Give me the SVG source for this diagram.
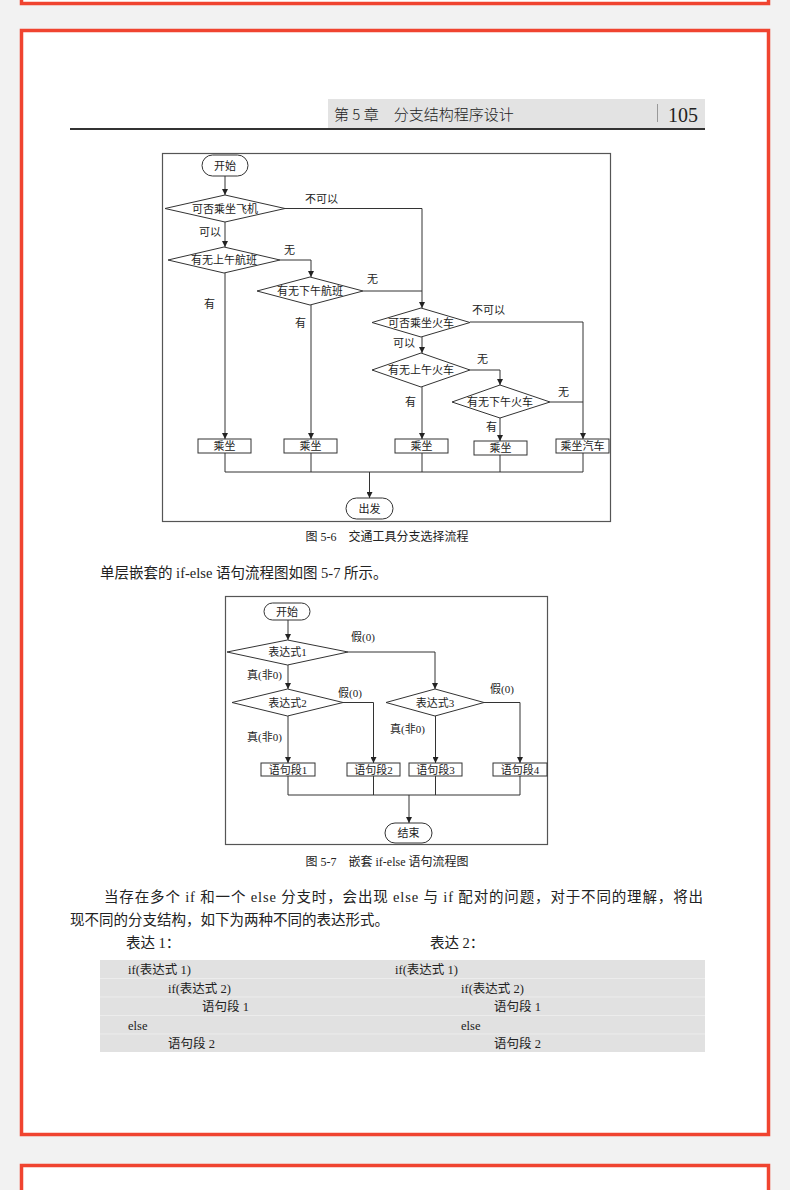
<svg xmlns="http://www.w3.org/2000/svg" width="790" height="1190" viewBox="0 0 790 1190">
<defs>
<marker id="ah" viewBox="0 0 8 8" refX="8" refY="4" markerWidth="6" markerHeight="6" markerUnits="userSpaceOnUse" orient="auto">
<path d="M0,0 L8,4 L0,8 z" fill="#222"/>
</marker>
<style>
.panel{fill:#fff;stroke:#f04430;stroke-width:3.5}
.frame{fill:none;stroke:#555;stroke-width:1.2}
.shape{fill:#fff;stroke:#333;stroke-width:1}
.con{fill:none;stroke:#333;stroke-width:1}
.arr{marker-end:url(#ah)}
.t{font-family:"Liberation Serif","Noto Sans CJK SC",serif;fill:#222}
.n{font-size:11px;text-anchor:middle}
.l{font-size:11px}
.body{font-size:14.5px}
.code{font-size:12.5px}
.cap{font-size:12px;text-anchor:middle}
.h{font-family:"Noto Sans CJK SC","Liberation Sans",sans-serif;fill:#222}
</style>
</defs>
<rect width="790" height="1190" fill="#f2f2f2"/>
<rect class="panel" x="21.5" y="-20" width="747" height="23.5"/>
<rect class="panel" x="21.5" y="30.5" width="747" height="1104"/>
<rect class="panel" x="21.5" y="1165.5" width="747" height="40"/>

<g id="header">
<rect x="328" y="99" width="377" height="29" fill="#e3e3e3"/>
<text class="h" x="334" y="120" font-size="15" font-weight="300">第 5 章　分支结构程序设计</text>
<line x1="657.5" y1="104" x2="657.5" y2="122" stroke="#999" stroke-width="1"/>
<text class="t" x="668" y="122" font-size="20">105</text>
<line x1="70" y1="129" x2="705" y2="129" stroke="#333" stroke-width="2"/>
</g>

<rect class="frame" x="162.5" y="153.5" width="448" height="368"/>

<g id="connectors-fig56">
<path class="con arr" d="M225,176 V195"/>
<path class="con arr" d="M225,222 V247"/>
<path class="con arr" d="M285,208.5 H422 V308"/>
<path class="con arr" d="M280,260 H311 V277"/>
<path class="con" d="M363,291 H422"/>
<path class="con arr" d="M225,273 V439"/>
<path class="con arr" d="M311,305 V439"/>
<path class="con arr" d="M422,337 V353"/>
<path class="con arr" d="M470,322 H583 V439"/>
<path class="con arr" d="M470,370 H500 V385"/>
<path class="con arr" d="M422,387 V439"/>
<path class="con arr" d="M500,418 V441"/>
<path class="con" d="M550,402 H583"/>
<path class="con" d="M225,453 V472 M311,453 V472 M422,453 V472 M500,454 V472 M583,453 V472 M225,472 H583"/>
<path class="con arr" d="M369.5,472 V498"/>
</g>
<g id="labels-fig56">
<text class="t l" x="305" y="203">不可以</text>
<text class="t l" x="199" y="236">可以</text>
<text class="t l" x="284" y="254">无</text>
<text class="t l" x="367" y="283">无</text>
<text class="t l" x="204" y="308">有</text>
<text class="t l" x="295" y="327">有</text>
<text class="t l" x="472" y="314">不可以</text>
<text class="t l" x="393" y="347">可以</text>
<text class="t l" x="477" y="363">无</text>
<text class="t l" x="558" y="396">无</text>
<text class="t l" x="405" y="406">有</text>
<text class="t l" x="486" y="431">有</text>
</g>
<g id="n56-start"><rect class="shape" x="202" y="155" width="46" height="21" rx="10.5"/><text class="t n" x="225" y="169.5">开始</text></g>
<g id="n56-d1"><polygon class="shape" points="165,208.5 225,195 285,208.5 225,222"/><text class="t n" x="225" y="212.5">可否乘坐飞机</text></g>
<g id="n56-d2"><polygon class="shape" points="168,260 224,247 280,260 224,273"/><text class="t n" x="224" y="264">有无上午航班</text></g>
<g id="n56-d3"><polygon class="shape" points="257,291 310,277 363,291 310,305"/><text class="t n" x="310" y="295">有无下午航班</text></g>
<g id="n56-d4"><polygon class="shape" points="372,322.5 421,308 470,322.5 421,337"/><text class="t n" x="421" y="326.5">可否乘坐火车</text></g>
<g id="n56-d5"><polygon class="shape" points="372,370 421,353 470,370 421,387"/><text class="t n" x="421" y="374">有无上午火车</text></g>
<g id="n56-d6"><polygon class="shape" points="452,402 500,385 550,402 500,418"/><text class="t n" x="500" y="406">有无下午火车</text></g>
<g id="n56-b1"><rect class="shape" x="198" y="439" width="53" height="14"/><text class="t n" x="224.5" y="450">乘坐</text></g>
<g id="n56-b2"><rect class="shape" x="284" y="439" width="53" height="14"/><text class="t n" x="310.5" y="450">乘坐</text></g>
<g id="n56-b3"><rect class="shape" x="395" y="439" width="53" height="14"/><text class="t n" x="421.5" y="450">乘坐</text></g>
<g id="n56-b4"><rect class="shape" x="474" y="441" width="53" height="14"/><text class="t n" x="500.5" y="452">乘坐</text></g>
<g id="n56-b5"><rect class="shape" x="556" y="439" width="53" height="14"/><text class="t n" x="582.5" y="450">乘坐汽车</text></g>
<g id="n56-end"><rect class="shape" x="346" y="498" width="47" height="21" rx="10.5"/><text class="t n" x="369.5" y="512.5">出发</text></g>

<text class="t cap" x="387" y="541">图 5-6　交通工具分支选择流程</text>
<text class="t body" x="100" y="578">单层嵌套的 if-else 语句流程图如图 5-7 所示。</text>

<rect class="frame" x="225.5" y="596.5" width="322" height="248"/>
<g id="connectors-fig57">
<path class="con arr" d="M288,620 V640"/>
<path class="con arr" d="M288,665 V689"/>
<path class="con arr" d="M348,652 H435 V689"/>
<path class="con arr" d="M343,702.5 H373.5 V763"/>
<path class="con arr" d="M288,716 V763"/>
<path class="con arr" d="M484,702.5 H520 V763"/>
<path class="con arr" d="M435.5,716 V763"/>
<path class="con" d="M288,776 V795 M373.5,776 V795 M435.5,776 V795 M520,776 V795 M288,795 H520"/>
<path class="con arr" d="M409,795 V823"/>
</g>
<g id="labels-fig57">
<text class="t l" x="351" y="641">假(0)</text>
<text class="t l" x="247" y="679">真(非0)</text>
<text class="t l" x="338" y="697">假(0)</text>
<text class="t l" x="247" y="741">真(非0)</text>
<text class="t l" x="490" y="693">假(0)</text>
<text class="t l" x="390" y="733">真(非0)</text>
</g>
<g id="n57-start"><rect class="shape" x="264" y="603" width="46" height="17" rx="8.5"/><text class="t n" x="287" y="615.5">开始</text></g>
<g id="n57-d1"><polygon class="shape" points="227,652 287.5,640 348,652 287.5,665"/><text class="t n" x="287.5" y="656">表达式1</text></g>
<g id="n57-d2"><polygon class="shape" points="232,702.5 287.5,689 343,702.5 287.5,716"/><text class="t n" x="287.5" y="706.5">表达式2</text></g>
<g id="n57-d3"><polygon class="shape" points="386,702.5 435,689 484,702.5 435,716"/><text class="t n" x="435" y="706.5">表达式3</text></g>
<g id="n57-b1"><rect class="shape" x="261" y="763" width="54" height="13"/><text class="t n" x="288" y="773.5">语句段1</text></g>
<g id="n57-b2"><rect class="shape" x="347" y="763" width="53" height="13"/><text class="t n" x="373.5" y="773.5">语句段2</text></g>
<g id="n57-b3"><rect class="shape" x="409" y="763" width="53" height="13"/><text class="t n" x="435.5" y="773.5">语句段3</text></g>
<g id="n57-b4"><rect class="shape" x="493" y="763" width="54" height="13"/><text class="t n" x="520" y="773.5">语句段4</text></g>
<g id="n57-end"><rect class="shape" x="385" y="823" width="47" height="20" rx="10"/><text class="t n" x="408.5" y="837">结束</text></g>

<text class="t cap" x="387" y="866">图 5-7　嵌套 if-else 语句流程图</text>
<text class="t body" x="104" y="902" textLength="599" lengthAdjust="spacing">当存在多个 if 和一个 else 分支时，会出现 else 与 if 配对的问题，对于不同的理解，将出</text>
<text class="t body" x="70" y="925">现不同的分支结构，如下为两种不同的表达形式。</text>
<text class="t body" x="126" y="948">表达 1：</text>
<text class="t body" x="430" y="948">表达 2：</text>

<g id="code">
<rect x="100" y="960" width="605" height="92" fill="#e1e1e1"/>
<path d="M100,978.5 H705 M100,997 H705 M100,1015.5 H705 M100,1034 H705" stroke="#ececec" stroke-width="1"/>
<text class="t code" x="128" y="974">if(表达式 1)</text>
<text class="t code" x="168" y="992.5">if(表达式 2)</text>
<text class="t code" x="202" y="1011">语句段 1</text>
<text class="t code" x="128" y="1029.5">else</text>
<text class="t code" x="168" y="1048">语句段 2</text>
<text class="t code" x="395" y="974">if(表达式 1)</text>
<text class="t code" x="461" y="992.5">if(表达式 2)</text>
<text class="t code" x="494" y="1011">语句段 1</text>
<text class="t code" x="461" y="1029.5">else</text>
<text class="t code" x="494" y="1048">语句段 2</text>
</g>
</svg>
